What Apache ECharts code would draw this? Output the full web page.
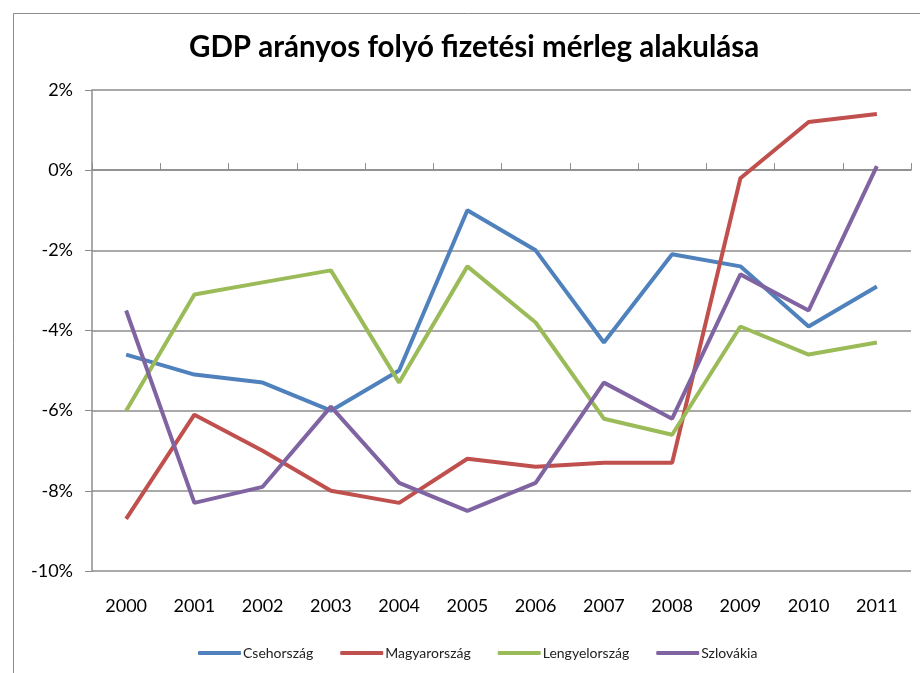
<!DOCTYPE html>
<html>
<head>
<meta charset="utf-8">
<script src="https://cdn.jsdelivr.net/npm/echarts@6/dist/echarts.min.js"></script>
<style>
  html, body { margin: 0; padding: 0; background: #fff; }
  #chart { width: 920px; height: 673px; }
</style>
</head>
<body>
<div id="chart"></div>
<script>
var years = ['2000', '2001', '2002', '2003', '2004', '2005', '2006', '2007', '2008', '2009', '2010', '2011'];
var seriesNames = ['Csehország', 'Magyarország', 'Lengyelország', 'Szlovákia'];
var cseh = [-4.6, -5.1, -5.3, -6.0, -5.0, -1.0, -2.0, -4.3, -2.1, -2.4, -3.9, -2.9];
var magyar = [-8.7, -6.1, -7.0, -8.0, -8.3, -7.2, -7.4, -7.3, -7.3, -0.2, 1.2, 1.4];
var lengyel = [-6.0, -3.1, -2.8, -2.5, -5.3, -2.4, -3.8, -6.2, -6.6, -3.9, -4.6, -4.3];
var szlovak = [-3.5, -8.3, -7.9, -5.9, -7.8, -8.5, -7.8, -5.3, -6.2, -2.6, -3.5, 0.1];
var colors = ['#4F81BD', '#C0504D', '#9BBB59', '#8064A2'];

var allData = [cseh, magyar, lengyel, szlovak];
var fontName = 'Lato, "Open Sans", sans-serif';

var series = [];
for (var i = 0; i < seriesNames.length; i++) {
    series.push({
        name: seriesNames[i],
        type: 'line',
        data: allData[i],
        xAxisIndex: 0,
        symbol: 'none',
        lineStyle: { color: colors[i], width: 4 },
        itemStyle: { color: colors[i] }
    });
}

var chart = echarts.init(document.getElementById('chart'));
chart.setOption({
    animation: false,
    backgroundColor: '#fff',
    color: colors,
    graphic: [{
        type: 'rect',
        left: 11, top: 11,
        shape: { width: 1000, height: 1000 },
        style: { fill: 'none', stroke: '#8c8c8c', lineWidth: 1 },
        silent: true
    }],
    title: {
        text: 'GDP arányos folyó fizetési mérleg alakulása',
        left: 184,
        top: 27,
        textStyle: { fontFamily: fontName, fontSize: 29.5, fontWeight: 'bold', color: '#000' }
    },
    legend: {
        data: seriesNames,
        bottom: 8,
        left: 193,
        itemWidth: 43,
        itemHeight: 4,
        itemGap: 27,
        icon: 'roundRect',
        textStyle: { fontFamily: fontName, fontSize: 14, color: '#222', padding: [0, 0, 0, -3] }
    },
    grid: { left: 92, right: 9, top: 90, bottom: 102 },
    xAxis: [{
        type: 'category',
        data: years,
        boundaryGap: true,
        axisLine: { show: false, onZero: false },
        axisTick: { show: false },
        axisLabel: { fontFamily: fontName, fontSize: 18, color: '#000', margin: 26 }
    }, {
        type: 'category',
        data: years,
        boundaryGap: true,
        axisLine: { show: true, onZero: true, lineStyle: { color: '#8c8c8c', width: 1.5 } },
        axisTick: { show: true, length: 7, lineStyle: { color: '#8c8c8c' } },
        axisLabel: { show: false }
    }],
    yAxis: {
        type: 'value',
        min: -10,
        max: 2,
        interval: 2,
        axisLine: { show: true, lineStyle: { color: '#8c8c8c', width: 1.5 } },
        axisTick: { show: true, length: 7, lineStyle: { color: '#8c8c8c' } },
        axisLabel: {
            fontFamily: fontName, fontSize: 18, color: '#000', margin: 19,
            formatter: function (v) { return v + '%'; }
        },
        splitLine: { show: true, lineStyle: { color: '#8c8c8c', width: 1.5 } }
    },
    series: series
});
</script>
</body>
</html>
